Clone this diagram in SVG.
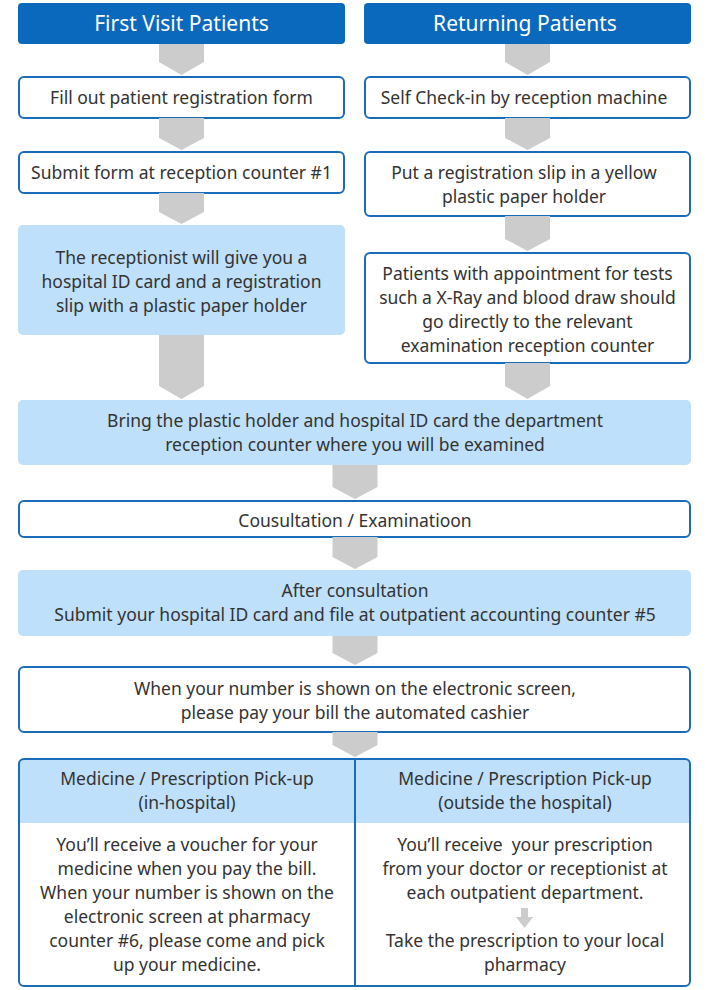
<svg xmlns="http://www.w3.org/2000/svg" width="710" height="990" viewBox="0 0 710 990">
<defs>
<style>
.hdr{fill:#0b69bd}
.wb{fill:#ffffff;stroke:#1a6cb8;stroke-width:2}
.lb{fill:#bee0fa}
.arr{fill:#cccccc}
text{font-family:"Noto Sans","Open Sans",sans-serif;font-size:17.5px;fill:#333333;text-anchor:middle}
.ht{fill:#ffffff;font-size:21px}
</style>
</defs>
<rect width="710" height="990" fill="#ffffff"/>
<g id="h1"><rect class="hdr" x="18" y="3" width="327" height="41" rx="4"/><text class="ht" x="181.5" y="31">First Visit Patients</text></g>
<g id="h2"><rect class="hdr" x="364" y="3" width="327" height="41" rx="4"/><text class="ht" x="525" y="31">Returning Patients</text></g>
<g id="l1"><rect class="wb" x="19" y="77" width="325" height="41" rx="5"/><text x="181.5" y="104">Fill out patient registration form</text></g>
<g id="r1"><rect class="wb" x="365" y="77" width="325" height="41" rx="5"/><text x="524" y="104">Self Check-in by reception machine</text></g>
<g id="l2"><rect class="wb" x="19" y="152" width="325" height="41" rx="5"/><text x="181.5" y="179">Submit form at reception counter #1</text></g>
<g id="r2"><rect class="wb" x="365" y="152" width="325" height="64" rx="5"/><text x="524" y="179">Put a registration slip in a yellow</text><text x="524" y="203">plastic paper holder</text></g>
<g id="l3"><rect class="lb" x="18" y="225" width="327" height="110" rx="5"/><text x="181.5" y="264">The receptionist will give you a</text><text x="181.5" y="288">hospital ID card and a registration</text><text x="181.5" y="312">slip with a plastic paper holder</text></g>
<g id="r3"><rect class="wb" x="365" y="253" width="325" height="110" rx="5"/><text x="527.5" y="280">Patients with appointment for tests</text><text x="527.5" y="304">such a X-Ray and blood draw should</text><text x="527.5" y="328">go directly to the relevant</text><text x="527.5" y="352">examination reception counter</text></g>
<g id="b4"><rect class="lb" x="18" y="400" width="673" height="65" rx="5"/><text x="355" y="427">Bring the plastic holder and hospital ID card the department</text><text x="355" y="451">reception counter where you will be examined</text></g>
<g id="b5"><rect class="wb" x="19" y="501" width="671" height="36" rx="5"/><text x="355" y="527">Cousultation / Examinatioon</text></g>
<g id="b6"><rect class="lb" x="18" y="570" width="673" height="66" rx="5"/><text x="355" y="597">After consultation</text><text x="355" y="621">Submit your hospital ID card and file at outpatient accounting counter #5</text></g>
<g id="b7"><rect class="wb" x="19" y="667" width="671" height="65" rx="5"/><text x="355" y="695">When your number is shown on the electronic screen,</text><text x="355" y="719">please pay your bill the automated cashier</text></g>
<g id="b8">
<rect x="19" y="759" width="671" height="227" rx="5" fill="#ffffff"/>
<path d="M19,823 V764 a5,5 0 0 1 5,-5 H685 a5,5 0 0 1 5,5 V823 Z" fill="#bee0fa"/>
<rect x="19" y="759" width="671" height="227" rx="5" fill="none" stroke="#1a6cb8" stroke-width="2"/>
<line x1="355" y1="759" x2="355" y2="986" stroke="#1a6cb8" stroke-width="2"/>
</g>
<g id="m1"><text x="187" y="785">Medicine / Prescription Pick-up</text><text x="187" y="809">(in-hospital)</text><text x="187" y="851">You’ll receive a voucher for your</text><text x="187" y="875">medicine when you pay the bill.</text><text x="187" y="899">When your number is shown on the</text><text x="187" y="923">electronic screen at pharmacy</text><text x="187" y="947">counter #6, please come and pick</text><text x="187" y="971">up your medicine.</text></g>
<g id="m2"><text x="525" y="785">Medicine / Prescription Pick-up</text><text x="525" y="809">(outside the hospital)</text><text x="525" y="851" xml:space="preserve">You’ll receive  your prescription</text><text x="525" y="875">from your doctor or receptionist at</text><text x="525" y="899">each outpatient department.</text><text x="525" y="947">Take the prescription to your local</text><text x="525" y="971">pharmacy</text></g>
<g id="connectors">
<polygon class="arr" points="159,44 204,44 204,62 181.5,75 159,62"/>
<polygon class="arr" points="505,44 550,44 550,62 527.5,75 505,62"/>
<polygon class="arr" points="159,118 204,118 204,138 181.5,150 159,138"/>
<polygon class="arr" points="505,118 550,118 550,138 527.5,150 505,138"/>
<polygon class="arr" points="159,193 204,193 204,212 181.5,224 159,212"/>
<polygon class="arr" points="505,216 550,216 550,239 527.5,251 505,239"/>
<polygon class="arr" points="159,335 204,335 204,386 181.5,399 159,386"/>
<polygon class="arr" points="505,363 550,363 550,386 527.5,399 505,386"/>
<polygon class="arr" points="332.5,465 377.5,465 377.5,487 355,499 332.5,487"/>
<polygon class="arr" points="332.5,537 377.5,537 377.5,557 355,569 332.5,557"/>
<polygon class="arr" points="332.5,636 377.5,636 377.5,653 355,665 332.5,653"/>
<polygon class="arr" points="332.5,732 377.5,732 377.5,745 355,757 332.5,745"/>
<polygon class="arr" points="521,908 528,908 528,917 533,917 524.5,928 516,917 521,917"/>
</g>
</svg>
